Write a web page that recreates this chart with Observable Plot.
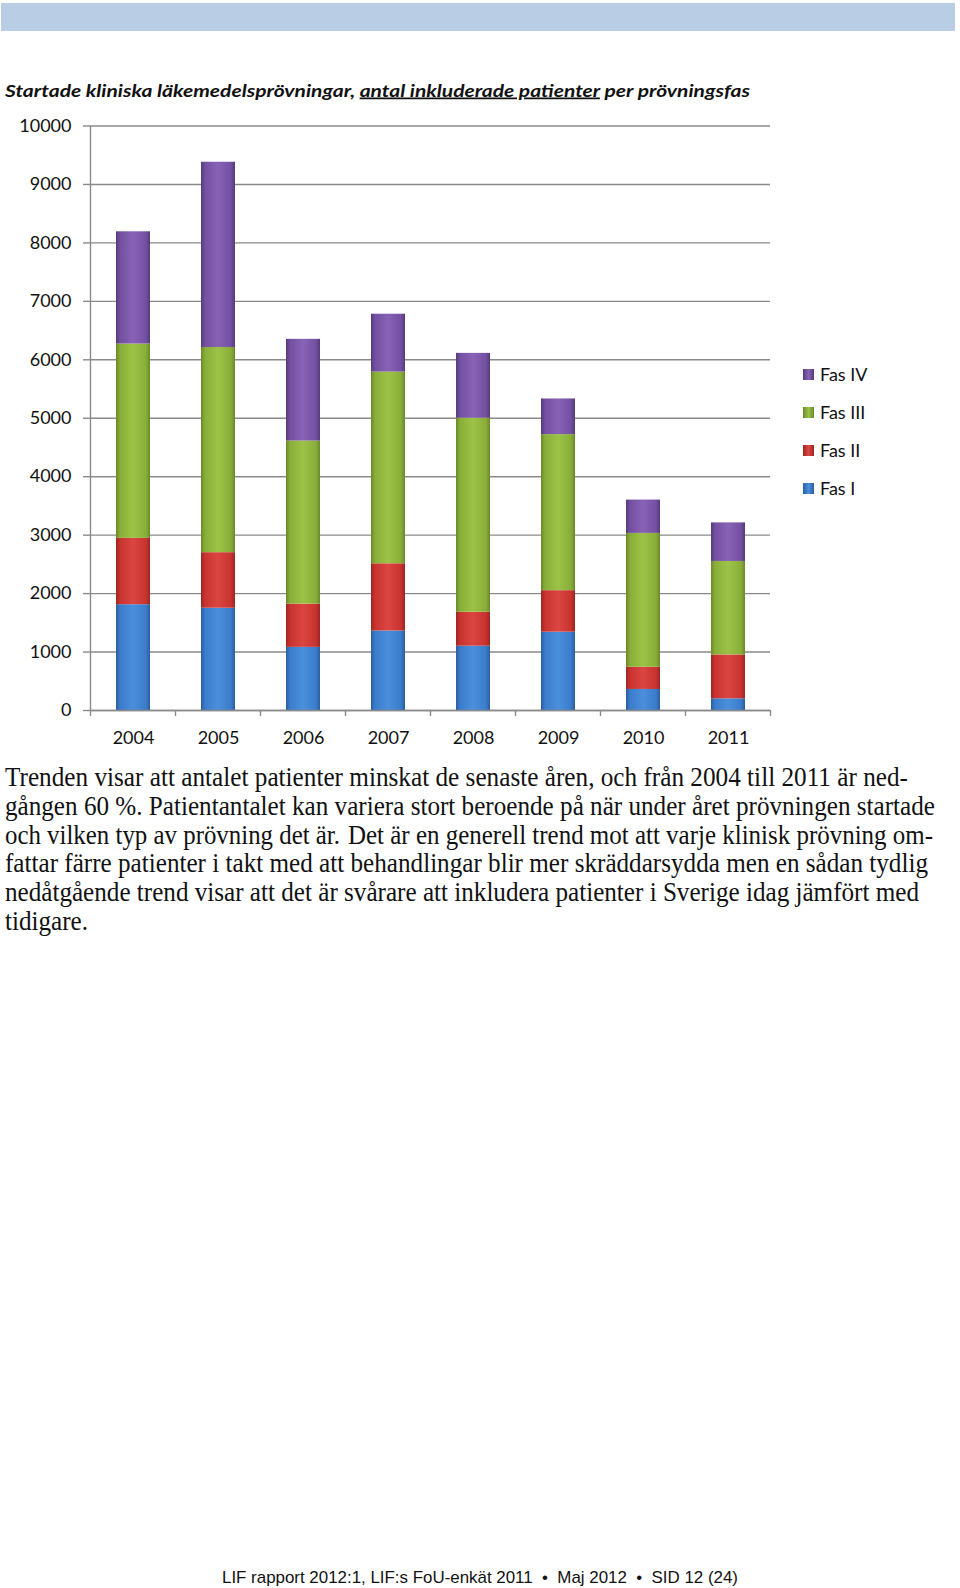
<!DOCTYPE html>
<html>
<head>
<meta charset="utf-8">
<script src="https://cdn.jsdelivr.net/npm/d3@7"></script>
<script src="https://cdn.jsdelivr.net/npm/@observablehq/plot@0.6"></script>
<style>
  html, body { margin: 0; padding: 0; background: #fff; }
  #page { position: relative; width: 960px; height: 1588px; overflow: hidden; background: #fff; }
  #band { position: absolute; left: 1px; top: 3px; width: 954px; height: 28px; background: #b9cde5; }
  #chart { position: absolute; left: 0; top: 100px; }
  #texts { position: absolute; left: 0; top: 0; }
  .leg { position: absolute; left: 803px; height: 20px; font-family: Lato, "Open Sans", sans-serif; font-size: 18px; color: #111; line-height: 20px; }
  .leg .sw { position: absolute; left: 0; top: 4px; width: 11px; height: 11px; }
  .leg .lb { position: absolute; left: 17px; top: -1px; white-space: nowrap; }
</style>
</head>
<body>
<div id="page">
  <div id="band"></div>
  <div id="chart"></div>
  <div id="legend"></div>
  <svg id="texts" width="960" height="1588"></svg>
</div>
<script>
// ---- data ----
const years = ["2004", "2005", "2006", "2007", "2008", "2009", "2010", "2011"];
const phases = ["Fas I", "Fas II", "Fas III", "Fas IV"];
const fasI   = [1810, 1750, 1080, 1360, 1100, 1340, 360, 200];
const fasII  = [1135, 950, 740, 1150, 580, 710, 380, 750];
const fasIII = [3325, 3510, 2790, 3280, 3320, 2670, 2290, 1600];
const fasIV  = [1920, 3170, 1740, 990, 1110, 610, 570, 660];
const yTicks = [0, 1000, 2000, 3000, 4000, 5000, 6000, 7000, 8000, 9000, 10000];

const titleParts = [
  ["Startade kliniska läkemedelsprövningar, ", false],
  ["antal inkluderade patienter", true],
  [" per prövningsfas", false]
];
const paragraphLines = [
  ["Trenden visar att antalet patienter minskat de senaste åren, och från 2004 till 2011 är ned-"],
  ["gången 60 %. Patientantalet kan variera stort beroende på när under året prövningen startade"],
  ["och vilken typ av prövning det är.", "Det är en generell trend mot att varje klinisk prövning om-"],
  ["fattar färre patienter i takt med att behandlingar blir mer skräddarsydda men en sådan tydlig"],
  ["nedåtgående trend visar att det är svårare att inkludera patienter i Sverige idag jämfört med"],
  ["tidigare."]
];
const footerText = "LIF rapport 2012:1, LIF:s FoU-enkät 2011  \u2022  Maj 2012  \u2022  SID 12 (24)";

// ---- build table ----
const series = [fasI, fasII, fasIII, fasIV];
const table = [];
phases.forEach((p, i) => years.forEach((y, j) => table.push({year: y, phase: p, value: series[i][j]})));

const gradIds = ["gI", "gII", "gIII", "gIV"];
const gradColors = [
  ["#2b5e9f", "#3b7ccb", "#4a8fdc"],
  ["#9c2522", "#c8332f", "#dc4642"],
  ["#6a892a", "#89ae39", "#9cc347"],
  ["#553a7b", "#7350a1", "#8862b6"]
];

const chart = Plot.plot({
  width: 960,
  height: 660,
  marginTop: 25.5,
  marginBottom: 50,
  marginLeft: 90,
  marginRight: 190,
  style: {fontFamily: "Lato, 'Open Sans', sans-serif", fontSize: "18px", color: "#111", background: "transparent"},
  x: {type: "band", domain: years, paddingInner: 0.6, paddingOuter: 0.3, align: 0.5, axis: null, label: null},
  y: {domain: [0, 10000], axis: null, label: null},
  color: {domain: phases, range: gradIds.map(id => `url(#${id})`)},
  marks: [
    Plot.ruleY(yTicks, {stroke: "#8a8a8a", strokeWidth: 1.4}),
    Plot.axisY(yTicks, {label: null, tickSize: 7, tickPadding: 12, stroke: "#8a8a8a", strokeWidth: 1.4, fill: "#111", fontSize: 18, tickFormat: d => String(d)}),
    Plot.barY(table, {x: "year", y: "value", fill: "phase"}),
    Plot.axisX({label: null, tickSize: 0, tickPadding: 21, fill: "#111", fontSize: 18}),
    Plot.ruleY([0], {stroke: "#8a8a8a", strokeWidth: 1.4})
  ]
});

// gradients
const svg = d3.select(chart);
const defs = svg.insert("defs", ":first-child");
gradIds.forEach((id, i) => {
  const [dark, mid, light] = gradColors[i];
  const g = defs.append("linearGradient").attr("id", id).attr("x1", 0).attr("x2", 1).attr("y1", 0).attr("y2", 0);
  [[0, dark], [0.12, mid], [0.5, light], [0.88, mid], [1, dark]].forEach(([o, c]) =>
    g.append("stop").attr("offset", o).attr("stop-color", c));
});

// y axis line and category boundary ticks, from the chart's scales
const xs = chart.scale("x");
const ys = chart.scale("y");
const step = xs.step, bw = xs.bandwidth;
const y0 = ys.apply(0), yTop = ys.apply(10000);
const gAx = svg.append("g").attr("stroke", "#8a8a8a").attr("stroke-width", 1.4);
const firstEdge = xs.apply(years[0]) - (step - bw) / 2;
gAx.append("line").attr("x1", firstEdge).attr("x2", firstEdge).attr("y1", yTop).attr("y2", y0);
for (let k = 0; k <= years.length; k++) {
  const bx = firstEdge + k * step;
  gAx.append("line").attr("x1", bx).attr("x2", bx).attr("y1", y0).attr("y2", y0 + 6);
}
document.getElementById("chart").appendChild(chart);

// legend (top to bottom: Fas IV ... Fas I)
const legendTops = [479, 441, 403, 365];
const legend = document.getElementById("legend");
phases.forEach((p, i) => {
  const [dark, mid, light] = gradColors[i];
  const item = document.createElement("div");
  item.className = "leg";
  item.style.top = legendTops[i] + "px";
  item.innerHTML = `<div class="sw" style="background:linear-gradient(to right, ${dark}, ${light} 50%, ${dark})"></div><div class="lb">${p}</div>`;
  legend.appendChild(item);
});

// texts
const ns = "http://www.w3.org/2000/svg";
const texts = document.getElementById("texts");
function addText(x, y, len, font, parts, sy) {
  const t = document.createElementNS(ns, "text");
  t.setAttribute("x", x);
  if (sy) {
    t.setAttribute("y", 0);
    t.setAttribute("transform", `translate(0,${y}) scale(1,${sy})`);
  } else {
    t.setAttribute("y", y);
  }
  if (len) { t.setAttribute("textLength", len); t.setAttribute("lengthAdjust", "spacingAndGlyphs"); }
  t.setAttribute("style", font + ";white-space:pre");
  t.setAttribute("fill", "#111");
  parts.forEach(([s, u]) => {
    const ts = document.createElementNS(ns, "tspan");
    ts.textContent = s;
    if (u) ts.setAttribute("text-decoration", "underline");
    t.appendChild(ts);
  });
  texts.appendChild(t);
}
addText(5, 96.5, 745, "font-family:Lato,'Open Sans',sans-serif;font-style:italic;font-weight:700;font-size:17.5px", titleParts);

const serif = "font-family:'Liberation Serif','Times New Roman',serif;font-size:23px";
const lineLayout = [
  [[5, 903]],
  [[5, 930]],
  [[5, 335], [348, 585]],
  [[5, 923]],
  [[5, 914]],
  [[5, 83]]
];
paragraphLines.forEach((segs, i) => {
  const base = 786 + i * 28.8;
  segs.forEach((s, j) => {
    const [x, w] = lineLayout[i][j];
    addText(x, base, w, serif, [[s, false]], 1.22);
  });
});
addText(222, 1583, 516, "font-family:'Liberation Sans',Arial,sans-serif;font-size:17px", [[footerText, false]]);
</script>
</body>
</html>
